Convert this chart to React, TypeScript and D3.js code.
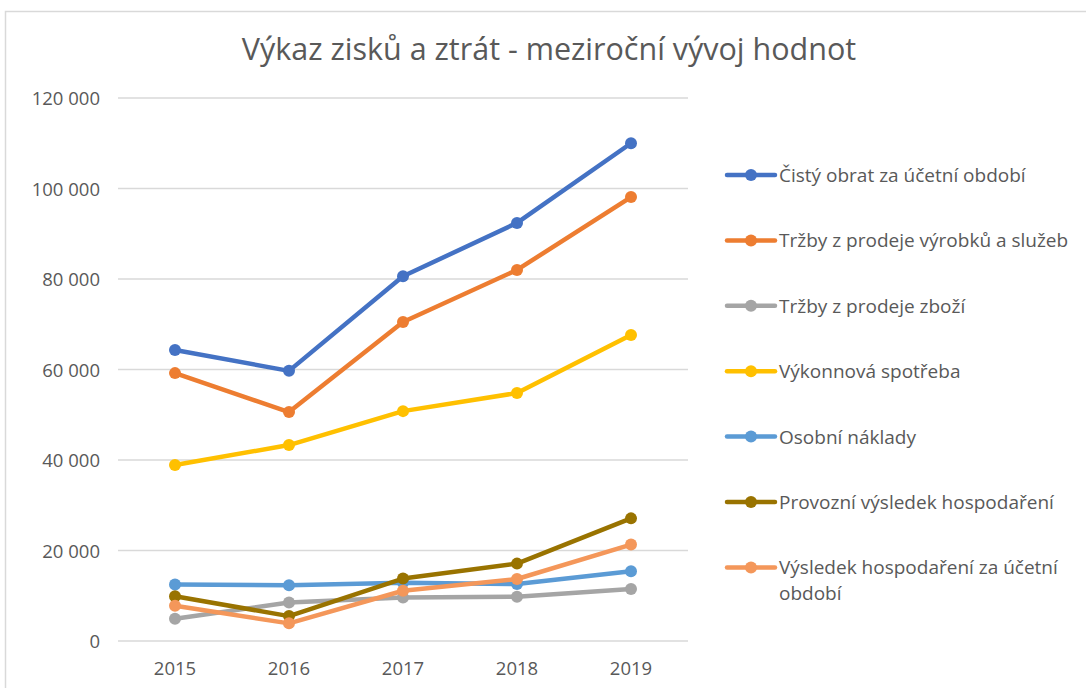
import React, {useEffect, useRef} from 'react';
import * as d3 from 'd3';

// years on the x axis
const years = ['2015', '2016', '2017', '2018', '2019'];

// series values
const cistyObrat = [64300, 59700, 80600, 92400, 110000];
const trzbyVyrobky = [59200, 50600, 70500, 82000, 98100];
const trzbyZbozi = [4900, 8500, 9600, 9800, 11500];
const vykonnovaSpotreba = [38900, 43300, 50800, 54800, 67600];
const osobniNaklady = [12500, 12300, 12900, 12600, 15400];
const provozniVysledek = [9900, 5500, 13800, 17100, 27100];
const vysledekObdobi = [7800, 3900, 11100, 13700, 21300];

const seriesNames = [
    'Čistý obrat za účetní období',
    'Tržby z prodeje výrobků a služeb',
    'Tržby z prodeje zboží',
    'Výkonnová spotřeba',
    'Osobní náklady',
    'Provozní výsledek hospodaření',
    'Výsledek hospodaření za účetní období'
];
const seriesValues = [cistyObrat, trzbyVyrobky, trzbyZbozi, vykonnovaSpotreba, osobniNaklady, provozniVysledek, vysledekObdobi];
const colors = ['#4472c4', '#ed7d31', '#a5a5a5', '#ffc000', '#5b9bd5', '#997300', '#f4975a'];

const yTicks = [0, 20000, 40000, 60000, 80000, 100000, 120000];
const title = 'Výkaz zisků a ztrát - meziroční vývoj hodnot';

export default function App(){
    const ref = useRef(null);
    const width = 1086;
    const height = 688;

    useEffect(()=>{
        const svg = d3.select(ref.current);
        svg.selectAll('*').remove();
        const font = '"Open Sans", "Noto Sans", sans-serif';
        const textColor = '#595959';

        //chart frame
        svg.append('rect')
            .attr('x', 5.5).attr('y', 11.5)
            .attr('width', width + 20).attr('height', height + 20)
            .attr('fill', 'white')
            .attr('stroke', '#d9d9d9')
            .attr('stroke-width', 1.5);

        svg.append('text')
            .attr('x', 549).attr('y', 60)
            .attr('text-anchor', 'middle')
            .attr('font-family', font)
            .attr('font-size', 30.5)
            .attr('fill', textColor)
            .text(title);

        const xScale = d3.scalePoint()
            .domain(years)
            .range([118, 688])
            .padding(0.5);

        const yScale = d3.scaleLinear()
            .domain([0, 120000])
            .range([641, 98]);

        const fmt = d => d3.format(',')(d).replace(/,/g, ' ');

        //gridlines
        svg.selectAll('.grid').data(yTicks).enter().append('line')
            .attr('class', 'grid')
            .attr('x1', 118).attr('x2', 688)
            .attr('y1', d => yScale(d)).attr('y2', d => yScale(d))
            .attr('stroke', '#d9d9d9')
            .attr('stroke-width', 1.5);

        svg.selectAll('.ylab').data(yTicks).enter().append('text')
            .attr('class', 'ylab')
            .attr('x', 100)
            .attr('y', d => yScale(d) + 7)
            .attr('text-anchor', 'end')
            .attr('font-family', font)
            .attr('font-size', 18.5)
            .attr('fill', textColor)
            .text(fmt);

        svg.selectAll('.xlab').data(years).enter().append('text')
            .attr('class', 'xlab')
            .attr('x', d => xScale(d))
            .attr('y', 675)
            .attr('text-anchor', 'middle')
            .attr('font-family', font)
            .attr('font-size', 18.5)
            .attr('fill', textColor)
            .text(d => d);

        const line = d3.line()
            .x((d, i) => xScale(years[i]))
            .y(d => yScale(d));

        seriesValues.forEach((vals, s) => {
            const g = svg.append('g');
            g.append('path')
                .attr('d', line(vals))
                .attr('fill', 'none')
                .attr('stroke', colors[s])
                .attr('stroke-width', 4.5)
                .attr('stroke-linecap', 'round')
                .attr('stroke-linejoin', 'round');
            g.selectAll('circle').data(vals).enter().append('circle')
                .attr('cx', (d, i) => xScale(years[i]))
                .attr('cy', d => yScale(d))
                .attr('r', 6)
                .attr('fill', colors[s]);
        });

        //legend
        const legend = svg.append('g');
        seriesNames.forEach((name, s) => {
            const y = 175 + s * 65.4;
            legend.append('line')
                .attr('x1', 727).attr('x2', 775)
                .attr('y1', y).attr('y2', y)
                .attr('stroke', colors[s])
                .attr('stroke-width', 4.5)
                .attr('stroke-linecap', 'round');
            legend.append('circle')
                .attr('cx', 751).attr('cy', y).attr('r', 6)
                .attr('fill', colors[s]);
            const lines = s === 6 ? ['Výsledek hospodaření za účetní', 'období'] : [name];
            lines.forEach((t, k) => {
                legend.append('text')
                    .attr('x', 779)
                    .attr('y', y + 7 + k * 26)
                    .attr('font-family', font)
                    .attr('font-size', 19)
                    .attr('fill', textColor)
                    .text(t);
            });
        });
    }, []);

    return (
        <svg ref={ref} width={width} height={height}
            style={{position: 'absolute', left: 0, top: 0, background: 'white'}}></svg>
    );
}
